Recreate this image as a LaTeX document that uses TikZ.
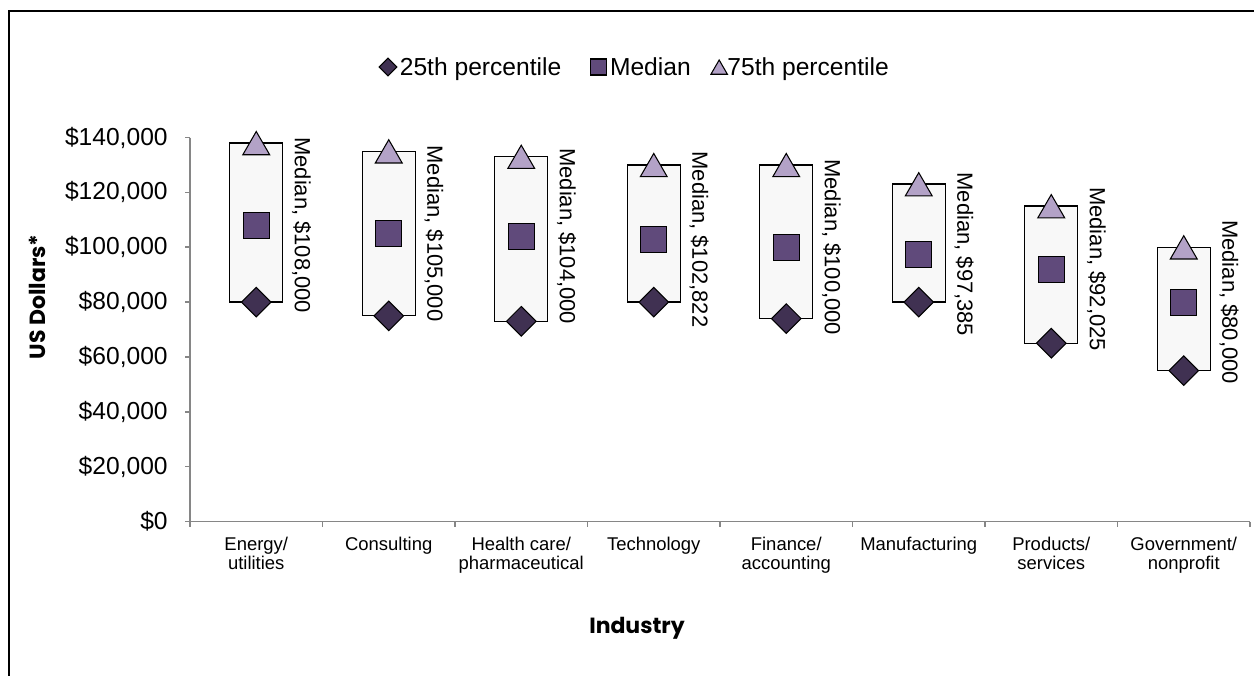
\documentclass[tikz,border=0pt]{standalone}
\usepackage{fontspec}
\setmainfont{Liberation Sans}
\newfontfamily\titlefont{Poppins}
\usetikzlibrary{shapes.geometric,positioning}

\begin{document}
\begin{tikzpicture}[
    axisline/.style={draw=axisgray, line width=0.9pt},
    spanbox/.style={draw=black, line width=0.8pt, fill=boxfill},
    quartlow/.style={draw=black, line width=0.6pt, fill=lowq, diamond, inner sep=0pt, minimum width=0.6cm, minimum height=0.6cm},
    quartmid/.style={draw=black, line width=0.6pt, fill=midq, rectangle, inner sep=0pt, minimum size=0.52cm},
    quarthigh/.style={draw=black, line width=0.6pt, fill=highq, regular polygon, regular polygon sides=3, inner sep=0pt, minimum size=0.62cm, yshift=-0.08cm},
    medlab/.style={rotate=-90, anchor=south, inner sep=0pt, font=\fontsize{12.5}{14}\selectfont},
    catlab/.style={anchor=north, align=center, inner sep=0pt, font=\fontsize{10.5}{10.6}\selectfont},
    ylab/.style={anchor=east, inner sep=0pt, font=\fontsize{14}{16}\selectfont},
    legtext/.style={inner sep=0pt, text height=11pt, text depth=1pt, font=\fontsize{14}{16}\selectfont},
    axtitle/.style={font=\titlefont\bfseries\fontsize{12.5}{15}\selectfont}
  ]
      % Define colors
      \definecolor{axisgray}{RGB}{134,134,134}
      \definecolor{boxfill}{RGB}{248,248,248}
      \definecolor{lowq}{RGB}{64,49,82}
      \definecolor{midq}{RGB}{96,74,123}
      \definecolor{highq}{RGB}{179,162,199}

      % Page size and frame
      \useasboundingbox (-3.8,-3.07) rectangle (21.28,10.43);
      \draw[line width=1.3pt] (-3.62,-3.3) -- (-3.62,10.21) -- (21.5,10.21);

      % Legend
      \node[quartlow, minimum width=0.36cm, minimum height=0.36cm] (k25) at (3.96,9.09) {};
      \node[legtext, right=0.04cm of k25] (t25) {25th percentile};
      \node[quartmid, minimum size=0.32cm, right=0.56cm of t25] (k50) {};
      \node[legtext, right=0.06cm of k50] (t50) {Median};
      \node[quarthigh, minimum size=0.38cm, yshift=0.03cm, right=0.44cm of t50] (k75) {};
      \node[legtext, right=0.72cm of t50] (t75) {75th percentile};

      % Axis titles
      \node[axtitle, rotate=90] (ytitle) at (-3.06,4.49) {US Dollars*};
      \node[axtitle] (xtitle) at (8.94,-2.13) {Industry};

      % Category labels
      \node[catlab] (c1) at (1.325,-0.31) {Energy/\\utilities};
      \node[catlab] (c2) at (3.975,-0.31) {Consulting};
      \node[catlab] (c3) at (6.625,-0.31) {Health care/\\pharmaceutical};
      \node[catlab] (c4) at (9.275,-0.31) {Technology};
      \node[catlab] (c5) at (11.925,-0.31) {Finance/\\accounting};
      \node[catlab] (c6) at (14.575,-0.31) {Manufacturing};
      \node[catlab] (c7) at (17.225,-0.31) {Products/\\services};
      \node[catlab] (c8) at (19.875,-0.31) {Government/\\nonprofit};

      \begin{scope}[y=0.05486cm]
      % Axes and ticks
      \draw[axisline] (0,140) -- (0,0) -- (21.2,0);
      \foreach \v/\t in {0/0, 20/20{,}000, 40/40{,}000, 60/60{,}000, 80/80{,}000, 100/100{,}000, 120/120{,}000, 140/140{,}000}
        {\draw[axisline] (0,\v) -- ++(-0.1cm,0pt);
         \node[ylab] (y\v) at (-0.44,\v) {\$\t};}
      \foreach \i in {0,...,8}
        \draw[axisline] (2.65*\i,0) -- ++(0pt,-0.1cm);

      % Energy/utilities
      \draw[spanbox] (0.795,80) rectangle (1.855,138);
      \node[quartlow] (lo1) at (1.325,80) {};
      \node[quartmid] (md1) at (1.325,108) {};
      \node[quarthigh] (hi1) at (1.325,138) {};
      \node[medlab] (lab1) at (2.035,108) {Median, \$108,000};

      % Consulting
      \draw[spanbox] (3.445,75) rectangle (4.505,135);
      \node[quartlow] (lo2) at (3.975,75) {};
      \node[quartmid] (md2) at (3.975,105) {};
      \node[quarthigh] (hi2) at (3.975,135) {};
      \node[medlab] (lab2) at (4.685,105) {Median, \$105,000};

      % Health care/pharmaceutical
      \draw[spanbox] (6.095,73) rectangle (7.155,133);
      \node[quartlow] (lo3) at (6.625,73) {};
      \node[quartmid] (md3) at (6.625,104) {};
      \node[quarthigh] (hi3) at (6.625,133) {};
      \node[medlab] (lab3) at (7.335,104) {Median, \$104,000};

      % Technology
      \draw[spanbox] (8.745,80) rectangle (9.805,130);
      \node[quartlow] (lo4) at (9.275,80) {};
      \node[quartmid] (md4) at (9.275,102.822) {};
      \node[quarthigh] (hi4) at (9.275,130) {};
      \node[medlab] (lab4) at (9.985,102.822) {Median, \$102,822};

      % Finance/accounting
      \draw[spanbox] (11.395,74) rectangle (12.455,130);
      \node[quartlow] (lo5) at (11.925,74) {};
      \node[quartmid] (md5) at (11.925,100) {};
      \node[quarthigh] (hi5) at (11.925,130) {};
      \node[medlab] (lab5) at (12.635,100) {Median, \$100,000};

      % Manufacturing
      \draw[spanbox] (14.045,80) rectangle (15.105,123);
      \node[quartlow] (lo6) at (14.575,80) {};
      \node[quartmid] (md6) at (14.575,97.385) {};
      \node[quarthigh] (hi6) at (14.575,123) {};
      \node[medlab] (lab6) at (15.285,97.385) {Median, \$97,385};

      % Products/services
      \draw[spanbox] (16.695,65) rectangle (17.755,115);
      \node[quartlow] (lo7) at (17.225,65) {};
      \node[quartmid] (md7) at (17.225,92.025) {};
      \node[quarthigh] (hi7) at (17.225,115) {};
      \node[medlab] (lab7) at (17.935,92.025) {Median, \$92,025};

      % Government/nonprofit
      \draw[spanbox] (19.345,55) rectangle (20.405,100);
      \node[quartlow] (lo8) at (19.875,55) {};
      \node[quartmid] (md8) at (19.875,80) {};
      \node[quarthigh] (hi8) at (19.875,100) {};
      \node[medlab] (lab8) at (20.585,80) {Median, \$80,000};
      \end{scope}

\end{tikzpicture}
\end{document}
